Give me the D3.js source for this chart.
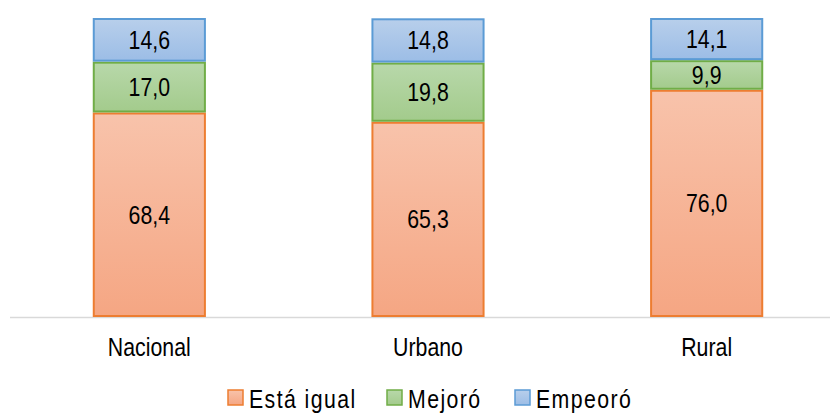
<!DOCTYPE html>
<html>
<head>
<meta charset="utf-8">
<title>Situación</title>
<script src="https://cdn.jsdelivr.net/npm/d3@7"></script>
<style>
body { margin:0; background:#fff; }
text { font-family: "Liberation Sans", Arial, sans-serif; fill:#000; }
</style>
</head>
<body>
<svg id="chart" width="830" height="414"></svg>
<script>
var categories = ["Nacional", "Urbano", "Rural"];
var seriesNames = ["Está igual", "Mejoró", "Empeoró"];
var igual = [68.4, 65.3, 76.0];
var mejoro = [17.0, 19.8, 9.9];
var empeoro = [14.6, 14.8, 14.1];

var fillTop = ["#f8c3ab", "#b8d8aa", "#b8cfeb"];
var fillBot = ["#f5a683", "#a3cb8c", "#9cbde6"];
var strokes = ["#ed7d31", "#70ad47", "#5b9bd5"];

// the original text is narrow and tall
var squeeze = 0.82;

var svg = d3.select("#chart");
var defs = svg.append("defs");
seriesNames.forEach(function(s, i){
	var g = defs.append("linearGradient").attr("id", "g" + i)
		.attr("x1", 0).attr("y1", 0).attr("x2", 0).attr("y2", 1);
	g.append("stop").attr("offset", "0%").attr("stop-color", fillTop[i]);
	g.append("stop").attr("offset", "100%").attr("stop-color", fillBot[i]);
});

var x = d3.scaleBand().domain(categories).range([10, 846])
	.paddingInner(0.594).paddingOuter(0.297);
var y = d3.scaleLinear().domain([0, 100]).range([317, 18]);

var rows = categories.map(function(c, i){
	return {cat: c, s0: igual[i], s1: mejoro[i], s2: empeoro[i]};
});
var stack = d3.stack().keys(["s0", "s1", "s2"])(rows);

function narrowText(sel, px, py, size){
	return sel.append("text")
		.attr("transform", "translate(" + px + "," + py + ") scale(" + squeeze + ",1)")
		.attr("font-size", size);
}

// axis line
svg.append("line").attr("x1", 10).attr("x2", 830)
	.attr("y1", y(0) + 0.5).attr("y2", y(0) + 0.5)
	.attr("stroke", "#d9d9d9").attr("stroke-width", 1.5);

stack.forEach(function(layer, i){
	var g = svg.append("g");
	g.selectAll("rect").data(layer).enter().append("rect")
		.attr("x", function(d){ return x(d.data.cat) + 1; })
		.attr("width", x.bandwidth() - 2)
		.attr("y", function(d){ return y(d[1]) + 1; })
		.attr("height", function(d){ return y(d[0]) - y(d[1]) - 2; })
		.attr("fill", "url(#g" + i + ")")
		.attr("stroke", strokes[i]).attr("stroke-width", 2);
	layer.forEach(function(d){
		narrowText(g, x(d.data.cat) + x.bandwidth() / 2, (y(d[0]) + y(d[1])) / 2 + 9, 26)
			.attr("text-anchor", "middle")
			.text(d3.format(".1f")(d[1] - d[0]).replace(".", ","));
	});
});

// category labels
var cats = svg.append("g");
categories.forEach(function(c){
	narrowText(cats, x(c) + x.bandwidth() / 2, 356, 26)
		.attr("text-anchor", "middle").text(c);
});

// legend
var legendX = [228, 387, 515];
var legend = svg.append("g");
seriesNames.forEach(function(s, i){
	legend.append("rect").attr("x", legendX[i]).attr("y", 390)
		.attr("width", 15).attr("height", 15)
		.attr("fill", "url(#g" + i + ")")
		.attr("stroke", strokes[i]).attr("stroke-width", 1.5);
	narrowText(legend, legendX[i] + 21, 408, 26)
		.attr("letter-spacing", 1.7).text(s);
});
</script>
</body>
</html>
